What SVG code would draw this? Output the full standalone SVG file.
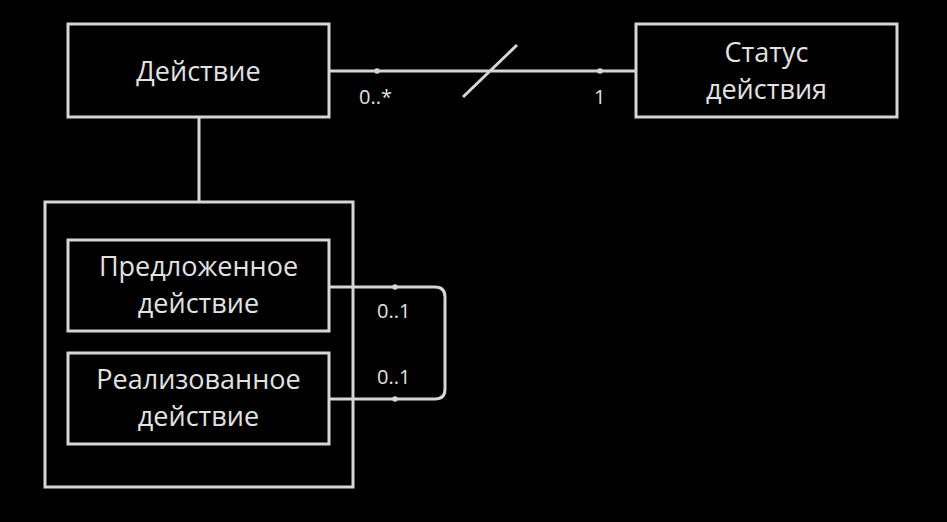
<svg xmlns="http://www.w3.org/2000/svg" width="947" height="522" viewBox="0 0 947 522">
<style>
.box{fill:#000;stroke:#d6d6d6;stroke-width:3}
.ln{fill:none;stroke:#d6d6d6;stroke-width:3}
.dot{fill:#d6d6d6}
.t{font-family:"Open Sans","Noto Sans","DejaVu Sans",sans-serif;font-size:27px;fill:#e2e2e2;text-anchor:middle}
.m{font-family:"Open Sans","Noto Sans","DejaVu Sans",sans-serif;font-size:20px;fill:#e2e2e2}
</style>
<rect width="947" height="522" fill="#000"/>
<g id="connectors">
<line class="ln" x1="199" y1="117" x2="199" y2="202"/>
<line class="ln" x1="329" y1="71" x2="636" y2="71"/>
<line class="ln" x1="463" y1="97" x2="517" y2="45"/>
<circle class="dot" cx="377" cy="71" r="2.8"/>
<circle class="dot" cx="600" cy="71" r="2.8"/>
<text class="m" x="359" y="104">0..*</text>
<text class="m" x="594" y="104">1</text>
</g>
<g id="container">
<rect class="box" x="45" y="202" width="308" height="285"/>
</g>
<g id="node-action">
<rect class="box" x="68" y="24" width="261" height="93"/>
<text class="t" x="198.5" y="81">Действие</text>
</g>
<g id="node-status">
<rect class="box" x="636" y="24" width="261" height="93"/>
<text class="t" x="766.5" y="62">Статус</text>
<text class="t" x="766.5" y="99">действия</text>
</g>
<g id="node-proposed">
<rect class="box" x="68" y="240" width="261" height="91"/>
<text class="t" x="198.5" y="276">Предложенное</text>
<text class="t" x="198.5" y="313">действие</text>
</g>
<g id="node-realized">
<rect class="box" x="68" y="353" width="261" height="91"/>
<text class="t" x="198.5" y="389">Реализованное</text>
<text class="t" x="198.5" y="426">действие</text>
</g>
<g id="connectors-self">
<path class="ln" d="M329,287 H435 Q445,287 445,297 V389 Q445,399 435,399 H329"/>
<circle class="dot" cx="395" cy="287" r="2.8"/>
<circle class="dot" cx="395" cy="399" r="2.8"/>
<text class="m" x="377" y="318">0..1</text>
<text class="m" x="377" y="384">0..1</text>
</g>
</svg>
